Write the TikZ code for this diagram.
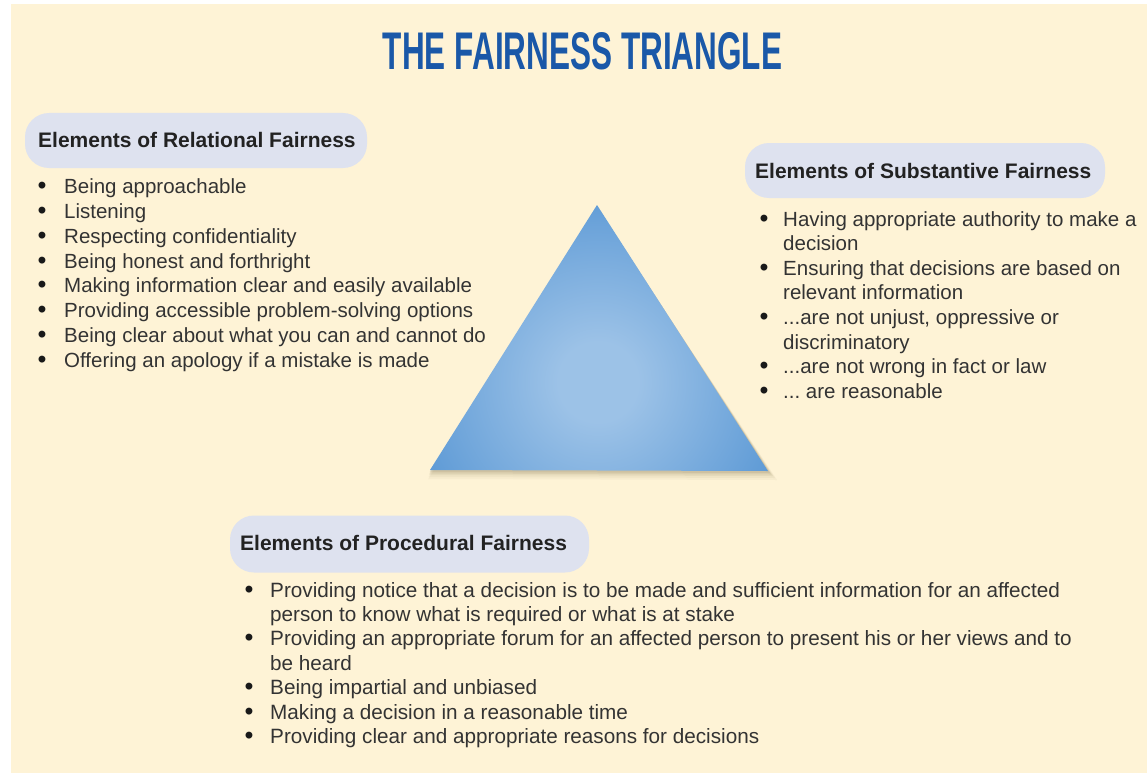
\documentclass[tikz,border=0pt]{standalone}
\usepackage{fontspec}
\setmainfont{Liberation Sans}
\usepackage{graphicx}
\definecolor{cream}{HTML}{FEF3D6}
\definecolor{pill}{HTML}{DEE2EF}
\definecolor{titleblue}{HTML}{1A58A8}
\definecolor{txt}{HTML}{333333}
\definecolor{hdr}{HTML}{222222}
\definecolor{triin}{HTML}{9CC2E7}
\definecolor{triout}{HTML}{5494D3}
\definecolor{shadowc}{HTML}{7A6A45}
\newcommand\tdots{...}
\pgfdeclareradialshading{trishade}{\pgfpoint{0bp}{0bp}}{color(0bp)=(triin); color(5bp)=(triin); color(27bp)=(triout); color(50bp)=(triout)}
\tikzset{
  pillbox/.style={rectangle, rounded corners=24pt, fill=pill, inner sep=0},
  hdrtext/.style={anchor=base west, inner sep=0, text=hdr, font=\fontsize{21}{25}\selectfont\bfseries},
  itemtext/.style={anchor=base west, inner sep=0, text=txt, font=\fontsize{20.5}{24}\selectfont},
  bul/.style={anchor=base, inner sep=0, text=black!90, font=\fontsize{24}{24}\selectfont\bfseries},
}
\begin{document}
\begin{tikzpicture}[x=1pt,y=-1pt]
\useasboundingbox (0,0) rectangle (1147,773);
\fill[white] (0,0) rectangle (1147,773);
\fill[cream] (11,4) rectangle (1147,773);

% title
\node[text=titleblue, inner sep=0] (title) at (582.5,51.5) {\resizebox{399pt}{37pt}{\bfseries THE FAIRNESS TRIANGLE}};

% triangle
\coordinate (apex) at (597,205);
\coordinate (bl) at (430,470);
\coordinate (br) at (768,471);
\foreach \d/\o in {9/0.05,7/0.06,5/0.08,3.5/0.1,2/0.12}
  \fill[shadowc, opacity=\o] ([shift={(0.4*\d,\d)}]apex) -- ([shift={(-0.2*\d,\d)}]bl) -- ([shift={(\d,\d)}]br) -- cycle;
\begin{scope}
  \clip (apex) -- (bl) -- (br) -- cycle;
  \shade[shading=trishade] (598,382) circle (200);
\end{scope}

% relational
\node[pillbox, minimum width=342pt, minimum height=55pt] (relbox) at (196,140.5) {};
\node[hdrtext] (relhead) at (38,147) {Elements of Relational Fairness};
\foreach \t [count=\i from 0] in {Being approachable, Listening, Respecting confidentiality, Being honest and forthright, Making information clear and easily available, Providing accessible problem-solving options, Being clear about what you can and cannot do, Offering an apology if a mistake is made}{
  \pgfmathsetmacro\yy{193.5+24.85*\i}
  \node[bul] (rb\i) at (42,\yy) {\textbullet};
  \node[itemtext] (r\i) at (64,\yy) {\t};
}

% substantive
\node[pillbox, minimum width=360pt, minimum height=55pt] (subbox) at (925,170.5) {};
\node[hdrtext] (subhead) at (755,178) {Elements of Substantive Fairness};
\foreach \b/\t [count=\i from 0] in {1/Having appropriate authority to make a, 0/decision, 1/Ensuring that decisions are based on, 0/relevant information, 1/{\tdots are not unjust, oppressive or}, 0/discriminatory, 1/\tdots are not wrong in fact or law, 1/\tdots\ are reasonable}{
  \pgfmathsetmacro\yy{226+24.6*\i}
  \ifnum\b=1 \node[bul] (sb\i) at (764,\yy) {\textbullet};\fi
  \node[itemtext] (s\i) at (783,\yy) {\t};
}

% procedural
\node[pillbox, minimum width=359pt, minimum height=57pt] (probox) at (409.5,544) {};
\node[hdrtext] (prohead) at (240,550.5) {Elements of Procedural Fairness};
\foreach \b/\t [count=\i from 0] in {1/Providing notice that a decision is to be made and sufficient information for an affected, 0/person to know what is required or what is at stake, 1/Providing an appropriate forum for an affected person to present his or her views and to, 0/be heard, 1/Being impartial and unbiased, 1/Making a decision in a reasonable time, 1/Providing clear and appropriate reasons for decisions}{
  \pgfmathsetmacro\yy{597+24.4*\i}
  \ifnum\b=1 \node[bul] (pb\i) at (249,\yy) {\textbullet};\fi
  \node[itemtext, font=\fontsize{20.7}{24}\selectfont] (p\i) at (270,\yy) {\t};
}
\end{tikzpicture}
\end{document}
